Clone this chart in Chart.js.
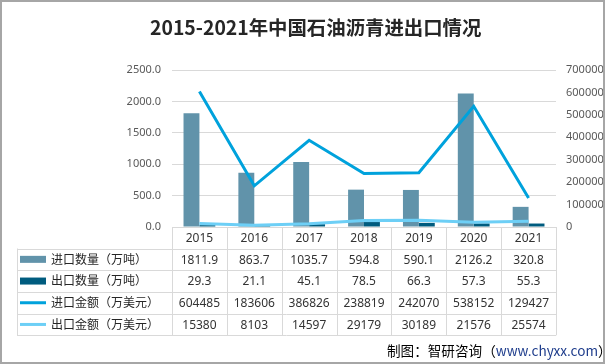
<!DOCTYPE html>
<html>
<head>
<meta charset="utf-8">
<script src="https://cdn.jsdelivr.net/npm/chart.js@4/dist/chart.umd.min.js"></script>
<style>
  body { margin: 0; background: #fff; }
  #wrap { width: 605px; height: 364px; }
</style>
</head>
<body>
<div id="wrap"><canvas id="chart" width="605" height="364"></canvas></div>
<script>
// data
const years = ['2015', '2016', '2017', '2018', '2019', '2020', '2021'];
const importQty = [1811.9, 863.7, 1035.7, 594.8, 590.1, 2126.2, 320.8];
const exportQty = [29.3, 21.1, 45.1, 78.5, 66.3, 57.3, 55.3];
const importValue = [604485, 183606, 386826, 238819, 242070, 538152, 129427];
const exportValue = [15380, 8103, 14597, 29179, 30189, 21576, 25574];
const leftTicks = [0, 500, 1000, 1500, 2000, 2500];
const rightTicks = [0, 100000, 200000, 300000, 400000, 500000, 600000, 700000];

const seriesNames = ['进口数量（万吨）', '出口数量（万吨）', '进口金额（万美元）', '出口金额（万美元）'];
const colors = ['#6193aa', '#005c7f', '#00a2dc', '#6dcff6'];

const sansFont = "'Noto Sans', 'Noto Sans CJK SC', sans-serif";

// draws title, data table, footer and frame
const tablePlugin = {
  id: 'dataTable',
  afterDraw(chart) {
    const ctx = chart.ctx;
    const area = chart.chartArea;
    const colW = (area.right - area.left) / years.length;
    const tableLeft = 17;
    const headTop = area.bottom;
    const headH = 21.5;
    const rowH = 21.7;
    const rows = [importQty, exportQty, importValue, exportValue];
    const tableBottom = headTop + headH + rowH * rows.length;

    ctx.save();
    ctx.strokeStyle = '#d9d9d9';
    ctx.lineWidth = 1;
    ctx.beginPath();
    // header top
    ctx.moveTo(area.left, Math.round(headTop) + 0.5);
    ctx.lineTo(area.right, Math.round(headTop) + 0.5);
    for (let r = 0; r <= rows.length; r++) {
      const y = Math.round(headTop + headH + r * rowH) + 0.5;
      ctx.moveTo(tableLeft, y);
      ctx.lineTo(area.right, y);
    }
    for (let c = 0; c <= years.length; c++) {
      const x = Math.round(area.left + c * colW) + 0.5;
      ctx.moveTo(x, headTop);
      ctx.lineTo(x, tableBottom);
    }
    ctx.moveTo(tableLeft + 0.5, headTop + headH);
    ctx.lineTo(tableLeft + 0.5, tableBottom);
    ctx.stroke();

    ctx.fillStyle = '#333333';
    ctx.font = '12px ' + sansFont;
    ctx.textAlign = 'center';
    ctx.textBaseline = 'middle';
    years.forEach((yr, i) => {
      ctx.fillText(yr, area.left + (i + 0.5) * colW, headTop + headH / 2 + 1);
    });
    rows.forEach((vals, r) => {
      const cy = headTop + headH + (r + 0.5) * rowH + 1;
      vals.forEach((v, i) => {
        const txt = r < 2 ? v.toFixed(1) : String(v);
        ctx.fillText(txt, area.left + (i + 0.5) * colW, cy);
      });
    });

    // legend column
    ctx.textAlign = 'left';
    seriesNames.forEach((name, r) => {
      const cy = headTop + headH + (r + 0.5) * rowH;
      ctx.fillStyle = colors[r];
      if (r < 2) {
        ctx.fillRect(20, cy - 3.5, 26, 7);
      } else {
        ctx.fillRect(20, cy - 1.5, 26, 3);
      }
      ctx.fillStyle = '#262626';
      ctx.font = '12px ' + sansFont;
      ctx.fillText(name, 51, cy + 1);
    });

    // title
    ctx.fillStyle = '#262626';
    ctx.font = "bold 19.4px 'Noto Sans CJK SC', sans-serif";
    ctx.textAlign = 'left';
    ctx.fillText('2015-2021年中国石油沥青进出口情况', 150, 28);

    // footer
    ctx.font = "13.6px 'Noto Sans CJK SC', sans-serif";
    let fx = 387;
    const fy = 351;
    const part1 = '制图：智研咨询（';
    const part2 = 'www.chyxx.com';
    ctx.fillStyle = '#000';
    ctx.fillText(part1, fx, fy);
    fx += ctx.measureText(part1).width;
    ctx.fillStyle = '#1f3d8c';
    ctx.fillText(part2, fx, fy);
    fx += ctx.measureText(part2).width;
    ctx.fillStyle = '#000';
    ctx.fillText('）', fx, fy);

    // frame
    ctx.strokeStyle = '#a6a6a6';
    ctx.lineWidth = 2;
    ctx.strokeRect(1, 1, 603, 362);
    ctx.restore();
  }
};

new Chart(document.getElementById('chart'), {
  type: 'bar',
  data: {
    labels: years,
    datasets: [
      { type: 'bar', label: seriesNames[0], data: importQty, backgroundColor: colors[0], yAxisID: 'y', order: 1 },
      { type: 'bar', label: seriesNames[1], data: exportQty, backgroundColor: colors[1], yAxisID: 'y', order: 1 },
      { type: 'line', label: seriesNames[2], data: importValue, borderColor: colors[2], borderWidth: 3, pointRadius: 0, tension: 0, yAxisID: 'y1', order: 0 },
      { type: 'line', label: seriesNames[3], data: exportValue, borderColor: colors[3], borderWidth: 3, pointRadius: 0, tension: 0, yAxisID: 'y1', order: 0 }
    ]
  },
  options: {
    responsive: false,
    animation: false,
    devicePixelRatio: 1,
    layout: { padding: { top: 70, bottom: 137, left: 0, right: 0 } },
    datasets: {
      bar: { categoryPercentage: 0.58, barPercentage: 1 }
    },
    scales: {
      x: { display: false },
      y: {
        position: 'left',
        min: 0,
        max: 2500,
        afterBuildTicks: (s) => { s.ticks = leftTicks.map(v => ({ value: v })); },
        afterFit: (s) => { s.width = 172; },
        border: { display: false },
        grid: { color: '#d9d9d9', drawTicks: false },
        ticks: {
          padding: 11,
          color: '#595959',
          font: { size: 11, family: sansFont },
          callback: (v) => v.toFixed(1)
        }
      },
      y1: {
        position: 'right',
        min: 0,
        max: 700000,
        afterBuildTicks: (s) => { s.ticks = rightTicks.map(v => ({ value: v })); },
        afterFit: (s) => { s.width = 49; },
        border: { display: false },
        grid: { drawOnChartArea: false, drawTicks: false },
        ticks: {
          padding: 10,
          color: '#595959',
          font: { size: 11, family: sansFont },
          callback: (v) => String(v)
        }
      }
    },
    plugins: {
      legend: { display: false },
      title: { display: false },
      tooltip: { enabled: false }
    }
  },
  plugins: [tablePlugin]
});
</script>
</body>
</html>
